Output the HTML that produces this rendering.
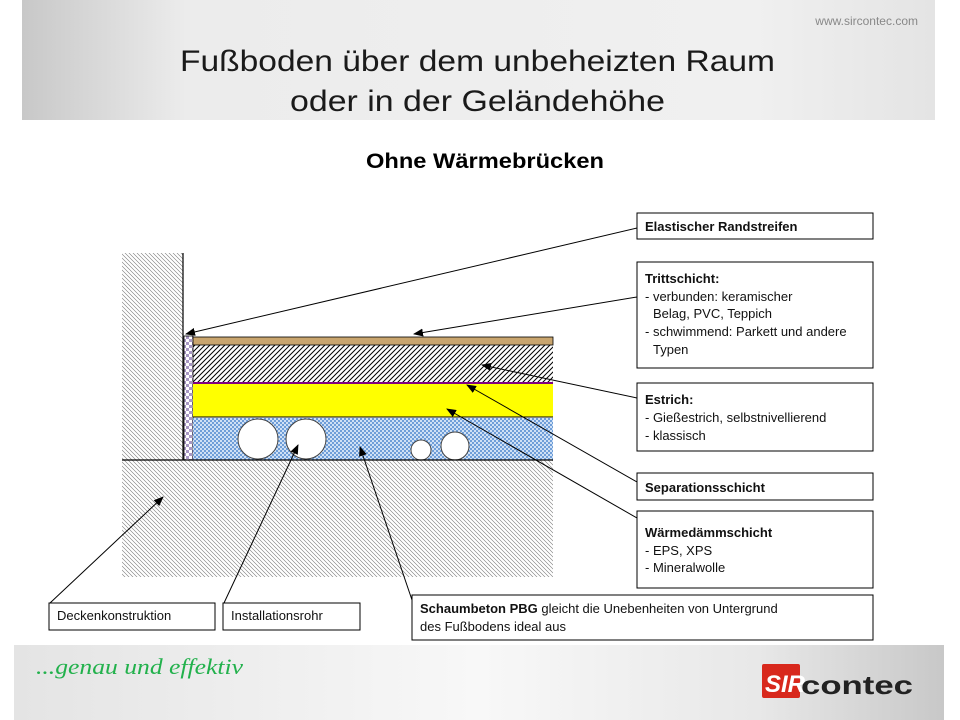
<!DOCTYPE html>
<html><head><meta charset="utf-8"><style>
html,body{margin:0;padding:0;background:#fff;}
body{width:960px;height:720px;overflow:hidden;position:relative;font-family:"Liberation Sans",sans-serif;}
</style></head><body>
<svg width="960" height="720" viewBox="0 0 960 720" xmlns="http://www.w3.org/2000/svg" style="position:absolute;left:0;top:0">
<defs>
<linearGradient id="hl" x1="0" y1="0" x2="1" y2="0">
<stop offset="0" stop-color="#c8c8c8"/><stop offset="0.18" stop-color="#ececec"/><stop offset="0.8" stop-color="#f0f0f0"/><stop offset="1" stop-color="#e4e4e4"/></linearGradient>
<linearGradient id="ft" x1="0" y1="0" x2="1" y2="0">
<stop offset="0" stop-color="#e4e4e4"/><stop offset="0.5" stop-color="#f8f8f8"/><stop offset="0.8" stop-color="#e8e8e8"/><stop offset="1" stop-color="#c8c8c8"/></linearGradient>
<pattern id="hb" width="4" height="4" patternUnits="userSpaceOnUse"><path d="M-1,-1 L5,5 M-1,3 L1,5 M3,-1 L5,1" stroke="#777" stroke-width="0.6"/></pattern>
<pattern id="hf" width="5" height="5" patternUnits="userSpaceOnUse"><path d="M-1,6 L6,-1 M-1,1 L1,-1 M4,6 L6,4" stroke="#000" stroke-width="1"/></pattern>
<pattern id="ck" width="6" height="6" patternUnits="userSpaceOnUse"><rect width="6" height="6" fill="#fff"/><rect width="3" height="3" fill="#a897c4"/><rect x="3" y="3" width="3" height="3" fill="#a897c4"/></pattern>
<pattern id="bl" width="4" height="4" patternUnits="userSpaceOnUse"><rect width="4" height="4" fill="#6f9ed8"/><rect width="2" height="2" fill="#cfe0f5"/><rect x="2" y="2" width="2" height="2" fill="#cfe0f5"/></pattern>
<marker id="ar" markerWidth="10" markerHeight="8" refX="9" refY="4" orient="auto" markerUnits="userSpaceOnUse"><path d="M0,0 L10,4 L0,8 z" fill="#000"/></marker>
</defs>
<rect x="22" y="0" width="913" height="120" fill="url(#hl)"/>
<text x="918" y="25" font-size="12" fill="#888" text-anchor="end">www.sircontec.com</text>
<text x="180" y="71" font-size="30" fill="#1a1a1a" textLength="595" lengthAdjust="spacingAndGlyphs">Fußboden über dem unbeheizten Raum</text>
<text x="290" y="111" font-size="30" fill="#1a1a1a" textLength="375" lengthAdjust="spacingAndGlyphs">oder in der Geländehöhe</text>
<text x="366" y="168" font-size="21" font-weight="bold" textLength="238" lengthAdjust="spacingAndGlyphs">Ohne Wärmebrücken</text>

<rect x="122" y="253" width="61" height="207" fill="url(#hb)"/>
<rect x="122" y="460" width="431" height="117" fill="url(#hb)"/>
<rect x="184" y="336" width="9" height="124" fill="url(#ck)" stroke="#000" stroke-width="0.8"/>
<rect x="193" y="337" width="360" height="8" fill="#c9a56e" stroke="#000" stroke-width="0.8"/>
<rect x="193" y="345" width="360" height="37" fill="url(#hf)"/>
<rect x="193" y="383" width="360" height="34" fill="#ffff00"/>
<line x1="193" y1="383" x2="553" y2="383" stroke="#800080" stroke-width="2"/>
<line x1="193" y1="417" x2="553" y2="417" stroke="#000" stroke-width="1"/>
<rect x="193" y="418" width="360" height="42" fill="url(#bl)"/>
<g fill="#fff" stroke="#444" stroke-width="1">
<circle cx="258" cy="439" r="20"/><circle cx="306" cy="439" r="20"/>
<circle cx="421" cy="450" r="10"/><circle cx="455" cy="446" r="14"/></g>
<line x1="183" y1="253" x2="183" y2="460" stroke="#000" stroke-width="1.2"/>
<line x1="122" y1="460" x2="553" y2="460" stroke="#000" stroke-width="1.2"/>

<g fill="#fff" stroke="#000" stroke-width="1">
<rect x="637" y="213" width="236" height="26"/>
<rect x="637" y="262" width="236" height="106"/>
<rect x="637" y="383" width="236" height="68"/>
<rect x="637" y="473" width="236" height="27"/>
<rect x="637" y="511" width="236" height="77"/>
<rect x="49" y="603" width="166" height="27"/>
<rect x="223" y="603" width="137" height="27"/>
<rect x="412" y="595" width="461" height="45"/>
</g>
<g stroke="#000" stroke-width="1" marker-end="url(#ar)">
<line x1="637" y1="228" x2="186" y2="334"/>
<line x1="637" y1="297" x2="414" y2="334"/>
<line x1="637" y1="398" x2="482" y2="365"/>
<line x1="637" y1="482" x2="467" y2="385"/>
<line x1="637" y1="518" x2="447" y2="409"/>
<line x1="50" y1="603" x2="163" y2="497"/>
<line x1="224" y1="603" x2="298" y2="445"/>
<line x1="412" y1="600" x2="360" y2="447"/>
</g>
<g font-size="13" fill="#111">
<text x="645" y="231" font-weight="bold">Elastischer Randstreifen</text>
<text x="645" y="283" font-weight="bold">Trittschicht:</text>
<text x="645" y="301">- verbunden: keramischer</text>
<text x="653" y="318">Belag, PVC, Teppich</text>
<text x="645" y="336">- schwimmend: Parkett und andere</text>
<text x="653" y="354">Typen</text>
<text x="645" y="404" font-weight="bold">Estrich:</text>
<text x="645" y="422">- Gießestrich, selbstnivellierend</text>
<text x="645" y="440">- klassisch</text>
<text x="645" y="492" font-weight="bold">Separationsschicht</text>
<text x="645" y="537" font-weight="bold">Wärmedämmschicht</text>
<text x="645" y="555">- EPS, XPS</text>
<text x="645" y="572">- Mineralwolle</text>
<text x="57" y="620">Deckenkonstruktion</text>
<text x="231" y="620">Installationsrohr</text>
<text x="420" y="613"><tspan font-weight="bold">Schaumbeton PBG</tspan> gleicht die Unebenheiten von Untergrund</text>
<text x="420" y="631">des Fußbodens ideal aus</text>
</g>

<rect x="14" y="645" width="930" height="75" fill="url(#ft)"/>
<text x="36" y="674" font-size="22" font-style="italic" fill="#22b14c" font-family="'Liberation Serif',serif" textLength="207" lengthAdjust="spacingAndGlyphs">...genau und effektiv</text>
<rect x="762" y="664" width="38" height="34" fill="#d8281c" rx="2"/>
<text x="765" y="692" font-size="24" font-weight="bold" fill="#fff" font-style="italic">SIR</text>
<text x="801" y="694" font-size="26" font-weight="bold" fill="#222" textLength="112" lengthAdjust="spacingAndGlyphs">contec</text>
</svg>
</body></html>
